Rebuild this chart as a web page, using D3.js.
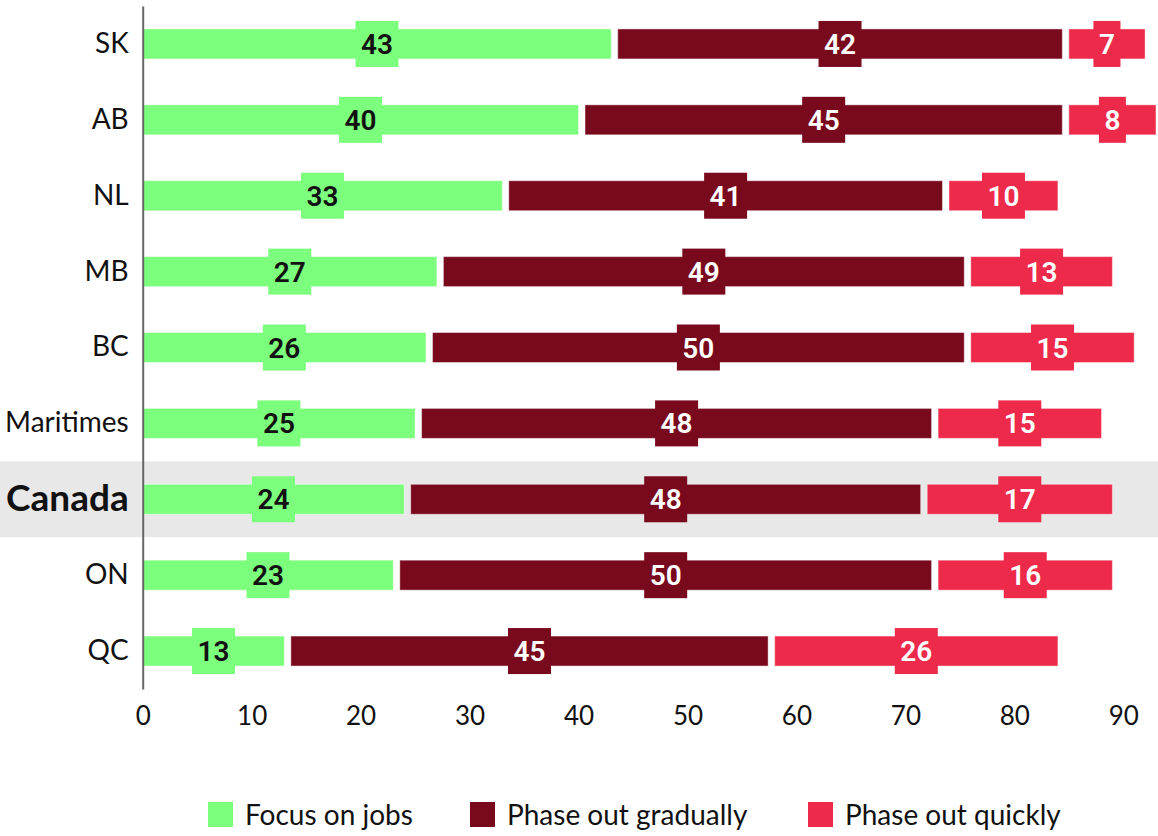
<!DOCTYPE html>
<html>
<head>
<meta charset="utf-8">
<script src="https://cdn.jsdelivr.net/npm/d3@7"></script>
<style>
  body { margin: 0; background: #fff; }
  svg { display: block; }
</style>
</head>
<body>
<div class="container"></div>
<script>
const w = 1158
const h = 836

const regions = ["SK", "AB", "NL", "MB", "BC", "Maritimes", "Canada", "ON", "QC"]
const focusJobs = [43, 40, 33, 27, 26, 25, 24, 23, 13]
const phaseGradual = [42, 45, 41, 49, 50, 48, 48, 50, 45]
const phaseQuick = [7, 8, 10, 13, 15, 15, 17, 16, 26]
const seriesNames = ["Focus on jobs", "Phase out gradually", "Phase out quickly"]
const xTicks = [0, 10, 20, 30, 40, 50, 60, 70, 80, 90]

const colors = ["#7cff7c", "#790a1e", "#ee2a4b"]
const labelColors = ["#111", "#fff", "#fff"]
const highlight = "Canada"
const inset = 6.5

const rows = regions.map((r, i) => ({
  region: r,
  values: [focusJobs[i], phaseGradual[i], phaseQuick[i]]
}))

const svg = d3.select(".container")
              .append("svg")
              .attr("width", w)
              .attr("height", h)

const xScale = d3.scaleLinear()
                .domain([0, 90])
                .range([142.7, 1123.3])

const yScale = d3.scaleBand()
                .domain(regions)
                .range([6, 689])

const barH = 30

// highlight band
svg.append("rect")
    .attr("x", 0)
    .attr("y", yScale(highlight))
    .attr("width", w)
    .attr("height", yScale.bandwidth())
    .attr("fill", "#e8e8e8")

// segments
const segs = []
rows.forEach(d => {
  let cum = 0
  d.values.forEach((v, k) => {
    let x0 = xScale(cum), x1 = xScale(cum + v)
    if (k === 1) { x0 += inset; x1 -= inset }
    segs.push({ region: d.region, k, v, x0, x1 })
    cum += v
  })
})

svg.append("g")
  .selectAll("rect")
  .data(segs)
  .enter()
  .append("rect")
    .attr("x", d => d.x0)
    .attr("y", d => yScale(d.region) + yScale.bandwidth() / 2 - barH / 2)
    .attr("width", d => d.x1 - d.x0)
    .attr("height", barH)
    .attr("fill", d => colors[d.k])
    .attr("stroke", "#fff")
    .attr("stroke-opacity", 0.45)
    .attr("stroke-width", 1)

// value labels with boxes
const lab = svg.append("g")
  .selectAll("g")
  .data(segs)
  .enter()
  .append("g")
    .attr("transform", d => `translate(${(d.x0 + d.x1) / 2}, ${yScale(d.region) + yScale.bandwidth() / 2})`)

lab.append("rect").attr("fill", d => colors[d.k])

lab.append("text")
    .text(d => d.v)
    .attr("text-anchor", "middle")
    .attr("dy", "0.36em")
    .attr("fill", d => labelColors[d.k])
    .style("font-family", "Roboto, 'Noto Sans', sans-serif")
    .style("font-weight", 600)
    .style("font-size", "28px")

lab.each(function() {
  const g = d3.select(this)
  const tw = g.select("text").node().getComputedTextLength()
  g.select("rect")
    .attr("x", -(tw + 11) / 2)
    .attr("y", -23)
    .attr("width", tw + 11)
    .attr("height", 46)
})

// y axis
const yAxis = d3.axisLeft(yScale).tickSize(0).tickPadding(14)
const gy = svg.append("g")
    .attr("transform", `translate(${xScale(0)}, 0)`)
    .call(yAxis)
gy.select(".domain").attr("stroke", "#666").attr("stroke-width", 2)
gy.selectAll("text")
    .attr("fill", "#111")
    .style("font-family", "Lato, 'Noto Sans', sans-serif")
    .style("font-size", d => d === highlight ? "37px" : "28px")
    .style("font-weight", d => d === highlight ? 700 : 400)

// x axis
const xAxis = d3.axisBottom(xScale).tickValues(xTicks).tickSize(0).tickPadding(18)
const gx = svg.append("g")
    .attr("transform", `translate(0, 689)`)
    .call(xAxis)
gx.select(".domain").remove()
gx.selectAll("text")
    .attr("fill", "#111")
    .style("font-family", "Lato, 'Noto Sans', sans-serif")
    .style("font-size", "26px")

// legend
const legendX = [208, 470, 808]
const legend = svg.append("g").attr("transform", "translate(0, 802)")
const li = legend.selectAll("g")
  .data(seriesNames)
  .enter()
  .append("g")
    .attr("transform", (d, i) => `translate(${legendX[i]}, 0)`)
li.append("rect")
    .attr("width", 25)
    .attr("height", 25)
    .attr("fill", (d, i) => colors[i])
li.append("text")
    .text(d => d)
    .attr("x", 37)
    .attr("y", 12.5)
    .attr("dy", "0.36em")
    .attr("fill", "#111")
    .style("font-family", "Lato, 'Noto Sans', sans-serif")
    .style("font-size", "28px")
</script>
</body>
</html>
